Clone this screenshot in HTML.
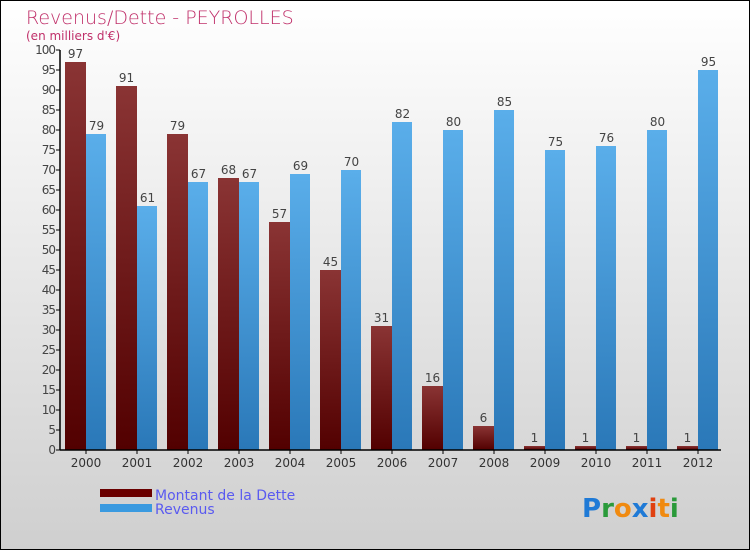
<!DOCTYPE html>
<html><head><meta charset="utf-8"><style>
body{margin:0}
#c{width:750px;height:550px;position:relative;box-sizing:border-box;border:1px solid #000;background:linear-gradient(#fff,#cfcfcf);font-family:"DejaVu Sans","Liberation Sans",sans-serif;overflow:hidden}
</style></head><body>
<div id="c">
<svg id="s" width="750" height="550" style="position:absolute;left:-1px;top:-1px">
<text x="26" y="24" font-size="19" fill="#c0306a" font-family="DejaVu Sans,sans-serif" style="font-weight:200">Revenus/Dette - PEYROLLES</text>
<text x="26" y="40" font-size="12" fill="#c0306a">(en milliers d'€)</text>
<g id="g"></g>
<rect x="100" y="489" width="52" height="8" fill="#6a0000"/>
<text x="155" y="500" font-size="14" fill="#5a5af0">Montant de la Dette</text>
<rect x="100" y="504" width="52" height="8" fill="#3a9ae0"/>
<text x="155" y="514" font-size="14" fill="#5a5af0">Revenus</text>
<text x="582" y="517" font-size="26" font-weight="bold"><tspan fill="#1f7ad6">P</tspan><tspan fill="#2a9a3a">r</tspan><tspan fill="#f08a10">o</tspan><tspan fill="#1f7ad6">x</tspan><tspan fill="#e04010">i</tspan><tspan fill="#f08a10">t</tspan><tspan fill="#2a9a3a">i</tspan></text>
</svg>
</div>
<script>
const years=["2000","2001","2002","2003","2004","2005","2006","2007","2008","2009","2010","2011","2012"];
const debt=[97,91,79,68,57,45,31,16,6,1,1,1,1];
const revenue=[79,61,67,67,69,70,82,80,85,75,76,80,95];
const yTicks=[0,5,10,15,20,25,30,35,40,45,50,55,60,65,70,75,80,85,90,95,100];
const NS="http://www.w3.org/2000/svg";
const g=document.getElementById('g');
const x0=60,y0=450,gw=51,bw=21;
const y=v=>y0-v*4;
function mk(t,a){const e=document.createElementNS(NS,t);for(const k in a)e.setAttribute(k,a[k]);g.appendChild(e);return e;}
const defs=mk('defs',{});
defs.innerHTML='<linearGradient id="gd" x1="0" y1="0" x2="0" y2="1"><stop offset="0" stop-color="#8a3434"/><stop offset="1" stop-color="#520000"/></linearGradient><linearGradient id="gr" x1="0" y1="0" x2="0" y2="1"><stop offset="0" stop-color="#5aaeea"/><stop offset="1" stop-color="#2a78b8"/></linearGradient>';
years.forEach((yr,i)=>{
 const gx=x0+i*gw+5;
 let r=mk('rect',{x:gx,y:y(debt[i]),width:bw,height:debt[i]*4,fill:'url(#gd)'});
 
 
 r=mk('rect',{x:gx+bw,y:y(revenue[i]),width:bw-1,height:revenue[i]*4,fill:'url(#gr)'});
 
 
 let t=mk('text',{x:gx+bw/2,y:y(debt[i])-4,'font-size':12,fill:'#444','text-anchor':'middle'});t.textContent=debt[i];
 
 
 t=mk('text',{x:gx+bw*1.5,y:y(revenue[i])-4,'font-size':12,fill:'#444','text-anchor':'middle'});t.textContent=revenue[i];
 
 
 t=mk('text',{x:gx+bw,y:467,'font-size':12,fill:'#333','text-anchor':'middle'});t.textContent=yr;
 
 
 mk('line',{x1:gx+bw,x2:gx+bw,y1:450,y2:454,stroke:'#000'});
});
yTicks.forEach(v=>{
 mk('line',{x1:56,x2:60,y1:y(v),y2:y(v),stroke:'#000'});
 const t=mk('text',{x:55,y:y(v)+4,'font-size':12,fill:'#444','text-anchor':'end','letter-spacing':'-1'});t.textContent=v;
 
 
});
let a=mk('line',{x1:60,x2:60,y1:50,y2:450,stroke:'#000','stroke-width':1.5});


a=mk('line',{x1:60,x2:721,y1:450,y2:450,stroke:'#000','stroke-width':1.5});


</script>
</body></html>
